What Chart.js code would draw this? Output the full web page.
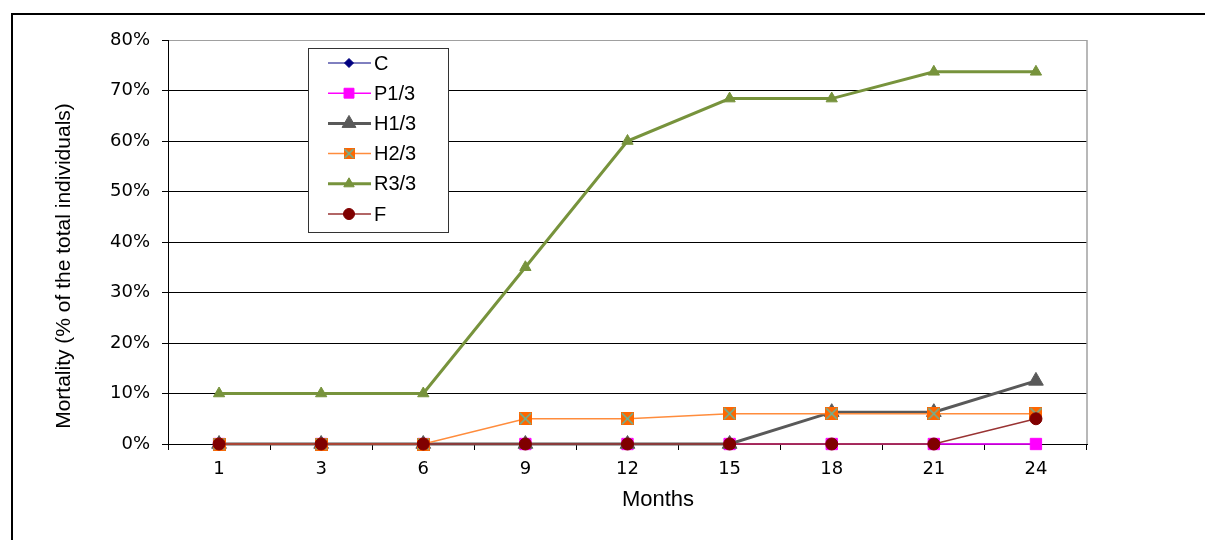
<!DOCTYPE html>
<html>
<head>
<meta charset="utf-8">
<script src="https://cdn.jsdelivr.net/npm/chart.js@4.4.0/dist/chart.umd.min.js"></script>
<style>
  html, body { margin: 0; padding: 0; background: #fff; }
  #wrap { width: 1207px; height: 540px; position: relative; }
</style>
</head>
<body>
<div id="wrap"><canvas id="myChart" width="1207" height="540"></canvas></div>
<script>
// data (mortality in %)
const months   = ['1', '3', '6', '9', '12', '15', '18', '21', '24'];
const seriesC   = [0, 0, 0, 0, 0, 0, 0, 0, 0];
const seriesP13 = [0, 0, 0, 0, 0, 0, 0, 0, 0];
const seriesH13 = [0, 0, 0, 0, 0, 0, 6.3, 6.3, 12.5];
const seriesH23 = [0, 0, 0, 5, 5, 6, 6, 6, 6];
const seriesR33 = [10, 10, 10, 35, 60, 68.4, 68.4, 73.7, 73.7];
const seriesF   = [0, 0, 0, 0, 0, 0, 0, 0, 5];
const legendNames = ['C', 'P1/3', 'H1/3', 'H2/3', 'R3/3', 'F'];

// orange square with teal cross, used as marker for H2/3
function crossSquare(size) {
  const c = document.createElement('canvas');
  c.width = size; c.height = size;
  const g = c.getContext('2d');
  g.fillStyle = '#FF6600';
  g.fillRect(0, 0, size, size);
  g.strokeStyle = '#5FB8A0';
  g.lineWidth = 1.5;
  g.beginPath();
  g.moveTo(1, 1); g.lineTo(size - 1, size - 1);
  g.moveTo(size - 1, 1); g.lineTo(1, size - 1);
  g.stroke();
  return c;
}
const h23Marker = crossSquare(13);
const h23MarkerSmall = crossSquare(11);

function makeSet(label, data, color, width, style, radius, order, pointColor) {
  return {
    label: label,
    data: data,
    borderColor: color,
    backgroundColor: pointColor || color,
    borderWidth: width,
    pointStyle: style,
    pointRadius: radius,
    pointBackgroundColor: pointColor || color,
    pointBorderColor: pointColor || color,
    pointBorderWidth: 1,
    tension: 0,
    clip: false,
    order: order
  };
}

const datasets = [
  makeSet(legendNames[0], seriesC, '#000080', 1, 'rectRot', 5, 6),
  makeSet(legendNames[1], seriesP13, '#FF00FF', 1.5, 'rect', 8, 5),
  makeSet(legendNames[2], seriesH13, '#595959', 3, 'triangle', 8.5, 4),
  makeSet(legendNames[3], seriesH23, '#FF8C3C', 1.5, h23Marker, 6.5, 3, '#FF6600'),
  makeSet(legendNames[4], seriesR33, '#77933C', 3, 'triangle', 6.5, 2),
  makeSet(legendNames[5], seriesF, '#993333', 1.5, 'circle', 6, 1, '#800000')
];
const legendStyles = ['rectRot', 'rect', 'triangle', h23MarkerSmall, 'triangle', 'circle'];
const legendRadius = [4.5, 7, 8, 5.5, 6, 5.5];

// frame, plot border, legend box and axis titles
const decor = {
  id: 'decor',
  beforeDraw(chart) {
    const ctx = chart.ctx;
    ctx.save();
    ctx.fillStyle = '#fff';
    ctx.fillRect(0, 0, chart.width, chart.height);
    ctx.strokeStyle = '#000';
    ctx.lineWidth = 2;
    ctx.beginPath();
    ctx.moveTo(12, 540);
    ctx.lineTo(12, 14);
    ctx.lineTo(1205, 14);
    ctx.stroke();
    ctx.restore();
  },
  beforeDatasetsDraw(chart) {
    const ctx = chart.ctx, a = chart.chartArea;
    ctx.save();
    ctx.strokeStyle = '#a0a0a0';
    ctx.lineWidth = 1.5;
    ctx.beginPath();
    ctx.moveTo(a.right, a.top);
    ctx.lineTo(a.right, a.bottom);
    ctx.stroke();
    ctx.restore();
  },
  afterDraw(chart) {
    const ctx = chart.ctx;
    ctx.save();
    // legend
    ctx.fillStyle = '#fff';
    ctx.fillRect(308, 48, 140, 184);
    ctx.strokeStyle = '#333';
    ctx.lineWidth = 1;
    ctx.strokeRect(308.5, 48.5, 140, 184);
    ctx.font = "20px 'Liberation Sans', Arial, sans-serif";
    ctx.textBaseline = 'middle';
    datasets.forEach((ds, i) => {
      const y = 63 + i * 30.2;
      ctx.strokeStyle = ds.borderColor;
      ctx.lineWidth = ds.borderWidth;
      ctx.beginPath();
      ctx.moveTo(328, y);
      ctx.lineTo(371, y);
      ctx.stroke();
      ctx.fillStyle = ds.pointBackgroundColor;
      ctx.strokeStyle = ds.pointBorderColor;
      ctx.lineWidth = 1;
      Chart.helpers.drawPoint(ctx, {
        pointStyle: legendStyles[i], radius: legendRadius[i], rotation: 0, borderWidth: 1
      }, 349, y);
      ctx.fillStyle = '#000';
      ctx.fillText(ds.label, 374, y + 1);
    });
    // axis titles
    ctx.fillStyle = '#000';
    ctx.textAlign = 'center';
    ctx.font = "22px 'Liberation Sans', Arial, sans-serif";
    ctx.fillText('Months', 658, 500);
    ctx.translate(64, 266);
    ctx.rotate(-Math.PI / 2);
    ctx.font = "21px 'Liberation Sans', Arial, sans-serif";
    ctx.fillText('Mortality (% of the total individuals)', 0, 0);
    ctx.restore();
  }
};

new Chart('myChart', {
  type: 'line',
  data: { labels: months, datasets: datasets },
  options: {
    responsive: false,
    animation: false,
    devicePixelRatio: 1,
    layout: { padding: { top: 40, right: 120, left: 0, bottom: 0 } },
    plugins: { legend: { display: false }, tooltip: { enabled: false } },
    scales: {
      x: {
        offset: true,
        afterFit: (s) => { s.height = 96; },
        grid: { offset: true, drawOnChartArea: false, drawTicks: true, tickLength: 6, color: '#000' },
        border: { display: true, color: '#000', width: 1 },
        ticks: {
          autoSkip: false, maxRotation: 0, padding: 9, color: '#000',
          font: { family: "'DejaVu Sans', Verdana, sans-serif", size: 18 }
        }
      },
      y: {
        min: 0,
        max: 80,
        afterFit: (s) => { s.width = 168; },
        grid: {
          color: (c) => (c.tick && c.tick.value === 80 ? '#a0a0a0' : '#000'),
          tickColor: '#000',
          tickLength: 6,
          lineWidth: 1
        },
        border: { display: true, color: '#000', width: 1 },
        ticks: {
          stepSize: 10, padding: 12, color: '#000',
          font: { family: "'DejaVu Sans', Verdana, sans-serif", size: 18 },
          callback: (v) => v + '%'
        }
      }
    }
  },
  plugins: [decor]
});
</script>
</body>
</html>
